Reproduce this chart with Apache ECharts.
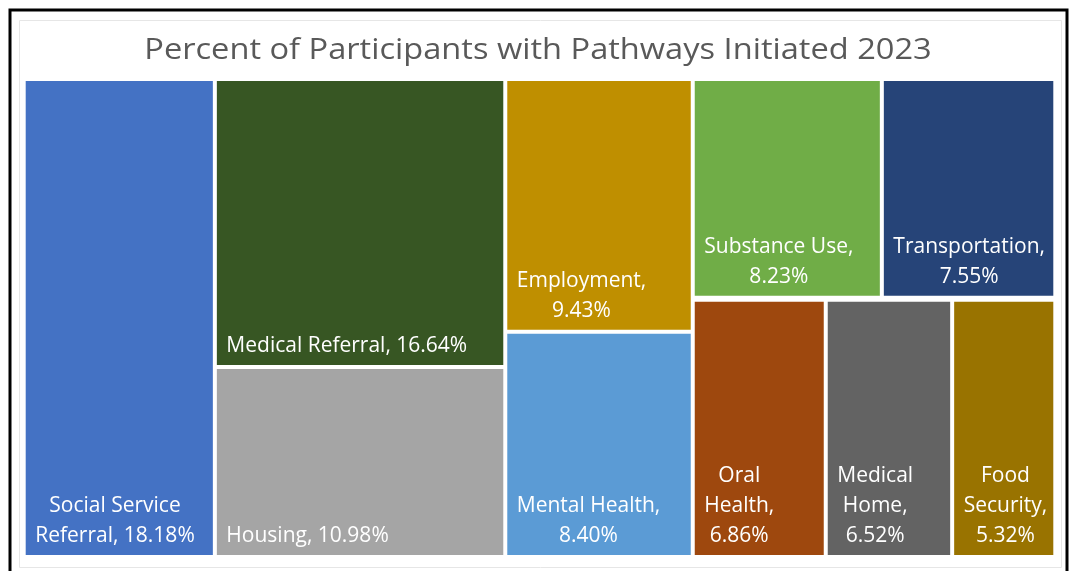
<!DOCTYPE html>
<html>
<head>
<meta charset="utf-8">
<title>Percent of Participants with Pathways Initiated 2023</title>
<script src="https://cdn.jsdelivr.net/npm/echarts@6/dist/echarts.min.js"></script>
<style>
  html, body { margin: 0; padding: 0; background: #ffffff; }
  #chart { width: 1069px; height: 571px; }
</style>
</head>
<body>
<div id="chart"></div>
<script>
// Pathway categories and the share of participants for each (percent)
const categories = [
  'Social Service Referral', 'Medical Referral', 'Housing', 'Employment',
  'Mental Health', 'Substance Use', 'Transportation', 'Oral Health',
  'Medical Home', 'Food Security'
];
const percents = [18.18, 16.64, 10.98, 9.43, 8.40, 8.23, 7.55, 6.86, 6.52, 5.32];

// Words per label line for each category
const labelBreaks = [[2, 2], [3], [2], [1, 1], [2, 1], [2, 1], [1, 1], [1, 1, 1], [1, 1, 1], [1, 1, 1]];

// Fill colour of each tile
const cellColors = ['#4472C4', '#375623', '#A5A5A5', '#BF8F00', '#5B9BD5',
                    '#70AD47', '#264478', '#9E480E', '#636363', '#997300'];

const titleText = 'Percent of Participants with Pathways Initiated 2023';
const labelFont = 'Open Sans';
const labelSize = 21;

const measure = document.createElement('canvas').getContext('2d');
measure.font = labelSize + 'px "' + labelFont + '"';

function labelLines(i) {
  const words = (categories[i] + ', ' + percents[i].toFixed(2) + '%').split(' ');
  const lines = [];
  let k = 0;
  labelBreaks[i].forEach(n => { lines.push(words.slice(k, k + n).join(' ')); k += n; });
  return lines;
}

// A tile: white 2px edge, label block at the bottom-left with centred lines
function leaf(i) {
  const lines = labelLines(i);
  const blockWidth = Math.max(...lines.map(l => measure.measureText(l).width));
  return {
    name: categories[i],
    value: percents[i],
    itemStyle: { color: cellColors[i], borderWidth: 2, borderColor: '#ffffff' },
    label: {
      show: true,
      formatter: lines.join('\n'),
      position: [9.5 + blockWidth / 2, '100%'],
      offset: [0, 1.5],
      align: 'center',
      verticalAlign: 'bottom',
      color: '#ffffff',
      fontFamily: labelFont,
      fontSize: labelSize,
      lineHeight: 30
    }
  };
}

let groupCount = 0;
function group(children, extra) {
  groupCount += 1;
  return Object.assign({
    name: 'group ' + groupCount,
    children: children,
    itemStyle: { borderWidth: 0, gapWidth: 0, borderColor: '#ffffff' }
  }, extra || {});
}

// Columns from left to right; the last column splits into two rows
const treeData = [
  leaf(0),
  group([
    group([leaf(1), leaf(2)]),
    group([
      group([leaf(3), leaf(4)]),
      group([
        group([leaf(5), leaf(6)]),
        group([group([leaf(7), leaf(8)]), leaf(9)], {
          upperLabel: { show: true, height: 2, formatter: () => '', color: 'rgba(0,0,0,0)', fontSize: 1 }
        })
      ])
    ])
  ])
];

const chart = echarts.init(document.getElementById('chart'), null, { renderer: 'canvas' });
chart.setOption({
  backgroundColor: '#ffffff',
  animation: false,
  graphic: [
    {
      type: 'rect',
      shape: { x: 19.5, y: 20.5, width: 1042, height: 547 },
      style: { fill: 'none', stroke: '#e6e6e6', lineWidth: 1 },
      silent: true
    },
    {
      type: 'rect',
      shape: { x: 10, y: 10, width: 1057, height: 590 },
      style: { fill: 'none', stroke: '#000000', lineWidth: 3 },
      silent: true
    },
    {
      type: 'text',
      x: 538,
      y: 51,
      scaleX: 1.105,
      silent: true,
      style: {
        text: titleText,
        fontFamily: labelFont,
        fontSize: 29.5,
        fill: '#595959',
        align: 'center',
        verticalAlign: 'middle'
      }
    }
  ],
  tooltip: { show: false },
  series: [{
    type: 'treemap',
    left: 23.7,
    top: 79,
    width: 1031.6,
    height: 478,
    sort: false,
    squareRatio: 1,
    roam: false,
    nodeClick: false,
    breadcrumb: { show: false },
    visibleMin: 0,
    itemStyle: { borderWidth: 0, gapWidth: 0, borderColor: '#ffffff' },
    upperLabel: { show: false },
    label: { show: true },
    emphasis: { disabled: true },
    data: treeData
  }]
});
</script>
</body>
</html>
